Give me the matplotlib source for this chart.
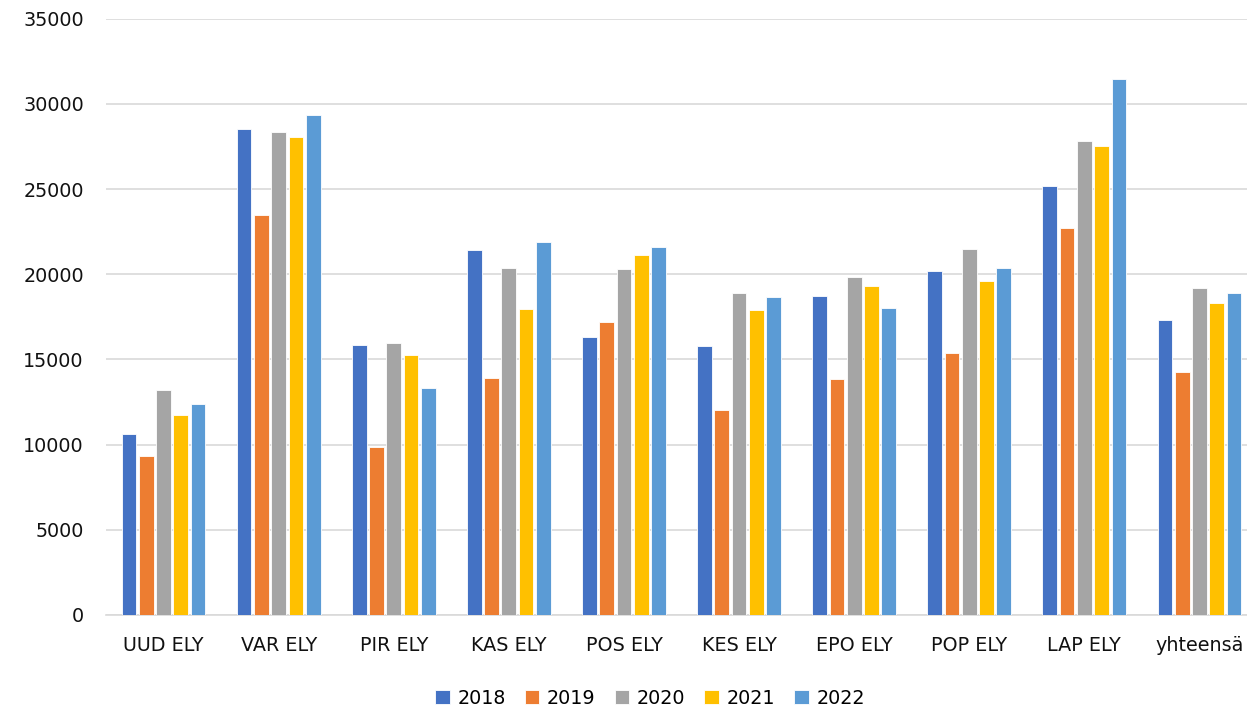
import numpy as np
import matplotlib.pyplot as plt

# Categories and yearly values
regions = ['UUD ELY', 'VAR ELY', 'PIR ELY', 'KAS ELY', 'POS ELY',
           'KES ELY', 'EPO ELY', 'POP ELY', 'LAP ELY', 'yhteensä']
years = ['2018', '2019', '2020', '2021', '2022']

v2018 = [10610, 28540, 15820, 21440, 16300, 15770, 18720, 20210, 25190, 17310]
v2019 = [9310, 23460, 9870, 13940, 17210, 12050, 13860, 15400, 22710, 14260]
v2020 = [13190, 28350, 15980, 20370, 20290, 18880, 19840, 21490, 27850, 19200]
v2021 = [11730, 28060, 15270, 17980, 21140, 17900, 19310, 19600, 27530, 18300]
v2022 = [12390, 29340, 13300, 21890, 21620, 18640, 18030, 20370, 31440, 18910]

colors = ['#4472C4', '#ED7D31', '#A5A5A5', '#FFC000', '#5B9BD5']

fig = plt.figure(figsize=(12.47, 7.11), dpi=100)
ax = fig.add_axes([106 / 1247, 1 - 615 / 711, 1151 / 1247, (615 - 18.7) / 711])

x = np.arange(len(regions))
step = 0.15
width = 0.128
series = [v2018, v2019, v2020, v2021, v2022]
for i, vals in enumerate(series):
    ax.bar(x + (i - 2) * step, vals, width, color=colors[i], label=years[i],
           edgecolor='white', linewidth=0.6, zorder=3)

ax.set_xlim(-0.5, len(regions) - 0.5)
ax.set_ylim(0, 35000)
ax.set_yticks(np.arange(0, 35001, 5000))
ax.set_xticks(x)
ax.set_xticklabels(regions)
ax.tick_params(axis='both', length=0, labelsize=13.8, colors='#111111')
ax.tick_params(axis='y', pad=16)
ax.tick_params(axis='x', pad=15)
ax.grid(axis='y', color='#D9D9D9', linewidth=1.2, zorder=0)
for s in ['top', 'right', 'left']:
    ax.spines[s].set_visible(False)
ax.spines['bottom'].set_color('#D9D9D9')
ax.spines['bottom'].set_linewidth(1.2)

fig.legend(loc='center', bbox_to_anchor=(650 / 1247, 1 - 698 / 711), ncol=5,
           frameon=False, fontsize=13.8, handlelength=0.75, handleheight=0.75,
           columnspacing=1.0, handletextpad=0.4)

fig.savefig('out.png', dpi=100)
